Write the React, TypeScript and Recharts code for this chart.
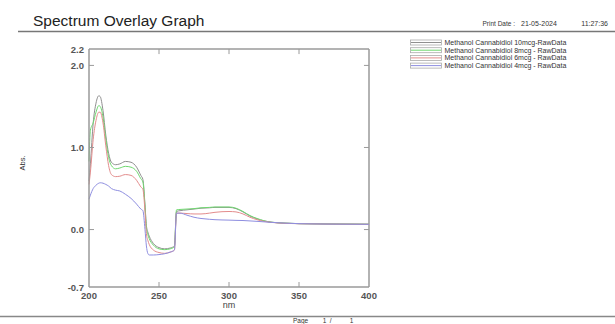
import React from 'react';
import { LineChart, Line, XAxis, YAxis, ReferenceLine } from 'recharts';

const wavelengths = [200, 201, 203, 205, 207, 208, 210, 212, 214, 216, 219, 222, 226, 230, 234, 237, 238.5, 240, 241, 242, 243, 246, 250, 254, 258, 261, 262.5, 265, 270, 275, 280, 286, 290, 300, 305, 310, 315, 320, 330, 340, 350, 370, 400];

const abs10mcg = [0.59, 0.8, 1.3, 1.54, 1.63, 1.62, 1.45, 1.15, 0.93, 0.82, 0.79, 0.8, 0.83, 0.82, 0.76, 0.66, 0.61, 0.3, 0.05, -0.03, -0.08, -0.17, -0.22, -0.235, -0.225, -0.2, 0.22, 0.23, 0.24, 0.25, 0.26, 0.265, 0.27, 0.27, 0.255, 0.215, 0.165, 0.13, 0.09, 0.078, 0.072, 0.068, 0.065];
const abs8mcg = [0.83, 1.21, 1.3, 1.43, 1.51, 1.5, 1.37, 1.1, 0.88, 0.78, 0.74, 0.75, 0.77, 0.76, 0.71, 0.62, 0.58, 0.28, 0.02, -0.06, -0.11, -0.19, -0.235, -0.245, -0.235, -0.21, 0.24, 0.245, 0.25, 0.255, 0.265, 0.27, 0.275, 0.275, 0.26, 0.22, 0.17, 0.135, 0.09, 0.078, 0.072, 0.068, 0.065];
const abs6mcg = [0.55, 0.7, 1.1, 1.33, 1.43, 1.43, 1.3, 1.02, 0.78, 0.67, 0.645, 0.65, 0.67, 0.66, 0.6, 0.52, 0.49, 0.22, -0.05, -0.13, -0.18, -0.25, -0.28, -0.29, -0.275, -0.25, 0.2, 0.2, 0.195, 0.19, 0.19, 0.2, 0.21, 0.22, 0.215, 0.19, 0.15, 0.12, 0.088, 0.076, 0.071, 0.067, 0.064];
const abs4mcg = [0.37, 0.42, 0.5, 0.54, 0.565, 0.57, 0.565, 0.55, 0.53, 0.5, 0.48, 0.47, 0.43, 0.38, 0.31, 0.25, 0.23, 0.0, -0.2, -0.29, -0.31, -0.31, -0.305, -0.295, -0.275, -0.25, 0.2, 0.2, 0.175, 0.15, 0.135, 0.125, 0.12, 0.115, 0.112, 0.11, 0.105, 0.1, 0.088, 0.078, 0.072, 0.067, 0.064];

const seriesNames = [
  'Methanol Cannabidiol 10mcg-RawData',
  'Methanol Cannabidiol 8mcg - RawData',
  'Methanol Cannabidiol 6mcg - RawData',
  'Methanol Cannabidiol 4mcg - RawData',
];
const seriesKeys = ['s10', 's8', 's6', 's4'];
const seriesColors = ['#8f8f8f', '#6fd86f', '#e38c8c', '#8e8ee0'];

const xTicks = [200, 250, 300, 350, 400];
const yTicks = [-0.7, 0, 1, 2, 2.2];
const innerXTicks = [250, 300, 350];
const innerYTicks = [0, 1, 2];
const xDomain = [200, 400];
const yDomain = [-0.7, 2.2];

const data = wavelengths.map((w, i) => ({
  nm: w,
  s10: abs10mcg[i],
  s8: abs8mcg[i],
  s6: abs6mcg[i],
  s4: abs4mcg[i],
}));

const AXIS = '#9a9a9a';
const FONT = '"Liberation Sans", Arial, sans-serif';
// inner tick length expressed in axis units (about 5px)
const TICK_NM = 3.6;
const TICK_ABS = 0.062;

const LeftTick = (props: any) => {
  const { x, y, payload } = props;
  const v = payload.value as number;
  return (
    <g>
      <text x={x} y={y} dy={3.5} textAnchor="end" fontSize={9.5} fontWeight="bold" fill="#555" fontFamily={FONT}>
        {v.toFixed(1)}
      </text>
      {innerYTicks.includes(v) && <line x1={x + 5} x2={x + 10} y1={y} y2={y} stroke={AXIS} strokeWidth={1} />}
    </g>
  );
};

const BottomTick = (props: any) => {
  const { x, y, payload } = props;
  const v = payload.value as number;
  return (
    <g>
      <text x={x} y={y} dy={8} textAnchor="middle" fontSize={9.5} fontWeight="bold" fill="#555" fontFamily={FONT}>
        {String(v)}
      </text>
      {innerXTicks.includes(v) && <line x1={x} x2={x} y1={y - 4} y2={y - 9} stroke={AXIS} strokeWidth={1} />}
    </g>
  );
};

export default function App() {
  return (
    <div style={{ position: 'absolute', left: 0, top: 0, width: 615, height: 324, background: '#fff', overflow: 'hidden' }}>
      <LineChart width={615} height={324} data={data} margin={{ top: 49, right: 246, bottom: 7, left: 59 }}>
        <XAxis
          xAxisId="b"
          dataKey="nm"
          type="number"
          domain={xDomain}
          ticks={xTicks}
          interval={0}
          tickLine={false}
          tickSize={0}
          tickMargin={4}
          height={30}
          axisLine={{ stroke: AXIS, strokeWidth: 1.5 }}
          tick={<BottomTick />}
        />
        <YAxis
          yAxisId="l"
          type="number"
          domain={yDomain}
          ticks={yTicks}
          interval={0}
          width={30}
          tickLine={false}
          tickSize={0}
          tickMargin={5}
          axisLine={{ stroke: AXIS, strokeWidth: 1.5 }}
          tick={<LeftTick />}
        />
        <ReferenceLine xAxisId="b" yAxisId="l" y={2.2} stroke={AXIS} strokeWidth={1.5} />
        <ReferenceLine xAxisId="b" yAxisId="l" x={400} stroke={AXIS} strokeWidth={1.5} />
        {innerXTicks.map((t) => (
          <ReferenceLine
            key={'tx' + t}
            xAxisId="b"
            yAxisId="l"
            segment={[{ x: t, y: yDomain[1] }, { x: t, y: yDomain[1] - TICK_ABS }]}
            stroke={AXIS}
            strokeWidth={1}
          />
        ))}
        {innerYTicks.map((t) => (
          <ReferenceLine
            key={'ty' + t}
            xAxisId="b"
            yAxisId="l"
            segment={[{ x: xDomain[1], y: t }, { x: xDomain[1] - TICK_NM, y: t }]}
            stroke={AXIS}
            strokeWidth={1}
          />
        ))}
        {seriesKeys.map((k, i) => (
          <Line
            key={k}
            xAxisId="b"
            yAxisId="l"
            dataKey={k}
            type="monotone"
            stroke={seriesColors[i]}
            strokeWidth={1}
            dot={false}
            isAnimationActive={false}
          />
        ))}
      </LineChart>
      <svg width={615} height={324} style={{ position: 'absolute', left: 0, top: 0, pointerEvents: 'none' }} fontFamily={FONT}>
        <text x={33} y={25.5} fontSize={15.5} fill="#222">Spectrum Overlay Graph</text>
        <text x={515} y={26} fontSize={6.5} fill="#333" textAnchor="end">Print Date :</text>
        <text x={521} y={26} fontSize={7} fill="#333">21-05-2024</text>
        <text x={608} y={26} fontSize={7} fill="#333" textAnchor="end">11:27:36</text>
        <line x1={18} x2={615} y1={31.5} y2={31.5} stroke="#777" strokeWidth={1.5} />
        {seriesNames.map((name, i) => {
          const cy = 42.5 + i * 7.7;
          return (
            <g key={name}>
              <rect x={410.5} y={cy - 2.5} width={31} height={5} fill="#fff" stroke="#aaa" strokeWidth={0.8} />
              <line x1={411} x2={441} y1={cy} y2={cy} stroke={seriesColors[i]} strokeWidth={1} />
              <text x={444.5} y={cy + 2.4} fontSize={7} fill="#333">{name}</text>
            </g>
          );
        })}
        <text x={0} y={0} fontSize={7.5} fill="#333" transform="translate(25,163) rotate(-90)" textAnchor="middle">Abs.</text>
        <text x={229} y={308} fontSize={9} fill="#444" textAnchor="middle">nm</text>
        <line x1={0} x2={615} y1={316.5} y2={316.5} stroke="#888" strokeWidth={1.5} />
        <text x={293} y={323} fontSize={6.5} fill="#333" xmlSpace="preserve">Page        1  /          1</text>
      </svg>
    </div>
  );
}
